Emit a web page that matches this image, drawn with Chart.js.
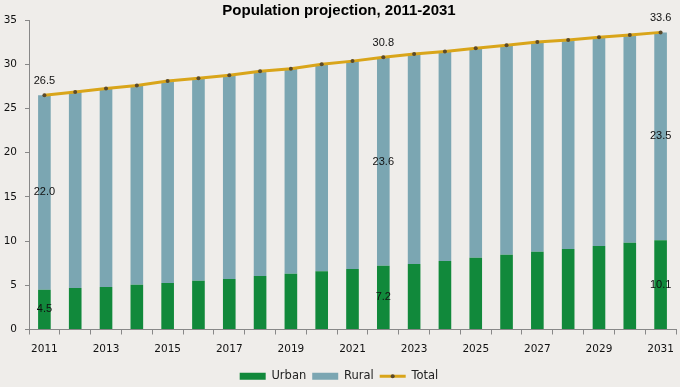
<!DOCTYPE html>
<html>
<head>
<meta charset="utf-8">
<script src="https://cdn.jsdelivr.net/npm/chart.js@4"></script>
<style>
  html, body { margin: 0; padding: 0; background: #efedea; }
  #wrap { width: 680px; height: 387px; }
</style>
</head>
<body>
<div id="wrap"><canvas id="popChart" width="680" height="387"></canvas></div>
<script>
// Population (millions), 2011-2031
const years = ['2011','2012','2013','2014','2015','2016','2017','2018','2019','2020','2021',
               '2022','2023','2024','2025','2026','2027','2028','2029','2030','2031'];
const urban = [4.5, 4.7, 4.8, 5.05, 5.25, 5.5, 5.7, 6.05, 6.3, 6.6, 6.85,
               7.2, 7.4, 7.75, 8.1, 8.45, 8.8, 9.1, 9.45, 9.8, 10.1];
const rural = [22.0, 22.15, 22.45, 22.55, 22.85, 22.9, 23.05, 23.15, 23.2, 23.4, 23.5,
               23.6, 23.75, 23.7, 23.7, 23.7, 23.7, 23.65, 23.6, 23.5, 23.5];
const total = [26.5, 26.85, 27.25, 27.6, 28.1, 28.4, 28.75, 29.2, 29.5, 30.0, 30.35,
               30.8, 31.15, 31.45, 31.8, 32.15, 32.5, 32.75, 33.05, 33.3, 33.6];
const yTicks = [0, 5, 10, 15, 20, 25, 30, 35];
const labelled = [0, 11, 20]; // years that carry value labels

const bgPlugin = {
  id: 'bg',
  beforeDraw(chart) {
    const c = chart.ctx;
    c.save();
    c.fillStyle = '#efedea';
    c.fillRect(0, 0, chart.width, chart.height);
    c.restore();
  }
};

// simple value labels (no datalabels plugin available)
const valueLabels = {
  id: 'valueLabels',
  afterDatasetsDraw(chart) {
    const c = chart.ctx;
    c.save();
    c.font = '11px "Liberation Sans", Arial, sans-serif';
    c.fillStyle = '#111';
    c.textAlign = 'center';
    c.textBaseline = 'middle';
    [0, 1].forEach(di => {
      const meta = chart.getDatasetMeta(di);
      const vals = chart.data.datasets[di].data;
      labelled.forEach(i => {
        const bar = meta.data[i];
        c.fillText(vals[i].toFixed(1), bar.x, (bar.y + bar.base) / 2);
      });
    });
    const lineMeta = chart.getDatasetMeta(2);
    labelled.forEach(i => {
      const p = lineMeta.data[i];
      c.fillText(total[i].toFixed(1), p.x, p.y - 14);
    });
    c.restore();
  },
  // marker dot on the Total legend line
  afterDraw(chart) {
    const boxes = chart.legend && chart.legend.legendHitBoxes;
    if (!boxes || !boxes[2]) return;
    const b = boxes[2];
    const c = chart.ctx;
    c.save();
    c.fillStyle = '#5b4a2a';
    c.beginPath();
    c.arc(b.left + 13, b.top + b.height / 2, 2, 0, Math.PI * 2);
    c.fill();
    c.restore();
  }
};

new Chart(document.getElementById('popChart').getContext('2d'), {
  type: 'bar',
  data: {
    labels: years,
    datasets: [
      { label: 'Urban', data: urban, backgroundColor: '#11893b', stack: 'pop', order: 1,
        barPercentage: 0.41, categoryPercentage: 1.0 },
      { label: 'Rural', data: rural, backgroundColor: '#7ba6b2', stack: 'pop', order: 1,
        barPercentage: 0.41, categoryPercentage: 1.0 },
      { type: 'line', label: 'Total', data: total, stack: 'total', order: 0,
        borderColor: '#d9a51a', backgroundColor: '#d9a51a', borderWidth: 3, tension: 0,
        pointRadius: 2, pointBorderWidth: 0, pointBackgroundColor: '#5b4a2a' }
    ]
  },
  options: {
    responsive: false,
    animation: false,
    layout: { padding: { left: 0, right: 2, top: 0, bottom: -5 } },
    plugins: {
      title: {
        display: true,
        text: 'Population projection, 2011-2031',
        color: '#000',
        font: { family: '"Liberation Sans", Arial, sans-serif', size: 15, weight: 'bold', lineHeight: 1.2 },
        padding: { top: 2, bottom: 0 }
      },
      legend: {
        position: 'bottom',
        labels: {
          sort: (a, b) => a.datasetIndex - b.datasetIndex,
          usePointStyle: true,
          pointStyleWidth: 26,
          boxWidth: 26,
          boxHeight: 7,
          padding: 6,
          color: '#222',
          font: { family: '"DejaVu Sans", Verdana, sans-serif', size: 11.5 },
          generateLabels(chart) {
            const items = Chart.defaults.plugins.legend.labels.generateLabels(chart);
            items.forEach(it => {
              if (it.datasetIndex === 2) {
                it.pointStyle = 'line';
                it.lineWidth = 3;
                it.strokeStyle = '#d9a51a';
              } else {
                it.pointStyle = 'rect';
                it.lineWidth = 0;
              }
            });
            return items;
          }
        }
      },
      tooltip: { enabled: false }
    },
    scales: {
      x: {
        stacked: true,
        afterFit: s => { s.height = 35; s.paddingRight = 0; s.paddingLeft = 0; },
        grid: { drawOnChartArea: false, offset: true, tickLength: 5, color: '#888' },
        border: { color: '#888' },
        ticks: {
          autoSkip: false,
          maxRotation: 0,
          padding: 8,
          color: '#111',
          font: { family: '"DejaVu Sans", Verdana, sans-serif', size: 10.5 },
          callback: (v, i) => (i % 2 === 0 ? years[i] : '')
        }
      },
      y: {
        stacked: true,
        min: 0,
        max: 35,
        afterFit: s => { s.width = 29; },
        afterBuildTicks: s => { s.ticks = yTicks.map(v => ({ value: v })); },
        grid: { drawOnChartArea: false, tickLength: 4, color: '#888' },
        border: { color: '#888' },
        ticks: {
          padding: 8,
          color: '#111',
          font: { family: '"DejaVu Sans", Verdana, sans-serif', size: 10.5 }
        }
      }
    }
  },
  plugins: [bgPlugin, valueLabels]
});
</script>
</body>
</html>
